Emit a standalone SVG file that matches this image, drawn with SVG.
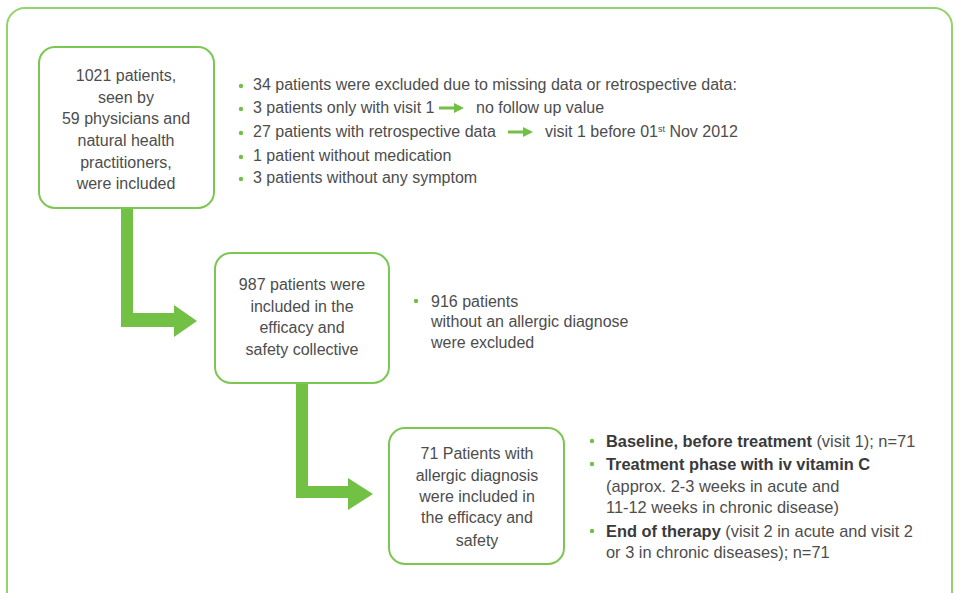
<svg xmlns="http://www.w3.org/2000/svg" width="956" height="593" viewBox="0 0 956 593">
<style>
.t{font-family:"Liberation Sans",Arial,sans-serif;font-size:16px;fill:#4d4d4d}
.l3{font-size:16.4px}
.c{text-anchor:middle}
.b{font-weight:bold;fill:#3a3a3a}
.box{fill:#fff;stroke:#7cc652;stroke-width:2}
.dot{fill:#72c044}
.arr{fill:#72c044}
</style>
<defs>
<marker id="ah" markerWidth="10" markerHeight="10" refX="7" refY="5" orient="auto" markerUnits="userSpaceOnUse">
<path d="M0,0 L10,5 L0,10 Z" fill="#72c044"/>
</marker>
</defs>
<rect width="956" height="593" fill="#fff"/>
<rect x="7" y="8" width="945" height="620" rx="18" fill="none" stroke="#93d36c" stroke-width="2"/>

<g id="connectors">
<path class="arr" d="M121,208 H133 V313 H174 V305 L197,321 L174,337 V327 H121 Z"/>
<path class="arr" d="M296,383 H308 V486 H348 V478 L373,494 L348,510 V498 H296 Z"/>
<path d="M439,108 H461" stroke="#72c044" stroke-width="3" marker-end="url(#ah)"/>
<path d="M508,132 H530" stroke="#72c044" stroke-width="3" marker-end="url(#ah)"/>
</g>

<g id="n1">
<rect class="box" x="39" y="47" width="175" height="161" rx="16"/>
<text class="t c" x="126" y="81">1021 patients,</text>
<text class="t c" x="126" y="103">seen by</text>
<text class="t c" x="126" y="124">59 physicians and</text>
<text class="t c" x="126" y="146">natural health</text>
<text class="t c" x="126" y="168">practitioners,</text>
<text class="t c" x="126" y="189">were included</text>
</g>

<g id="n2">
<rect class="box" x="215" y="253" width="174" height="130" rx="16"/>
<text class="t c" x="302" y="290">987 patients were</text>
<text class="t c" x="302" y="312">included in the</text>
<text class="t c" x="302" y="333">efficacy and</text>
<text class="t c" x="302" y="355">safety collective</text>
</g>

<g id="n3">
<rect class="box" x="389" y="428" width="175" height="136" rx="16"/>
<text class="t c" x="477" y="459">71 Patients with</text>
<text class="t c" x="477" y="481">allergic diagnosis</text>
<text class="t c" x="477" y="502">were included in</text>
<text class="t c" x="477" y="523">the efficacy and</text>
<text class="t c" x="477" y="546">safety</text>
</g>

<g id="list1">
<circle class="dot" cx="241" cy="86" r="2.2"/>
<circle class="dot" cx="241" cy="109" r="2.2"/>
<circle class="dot" cx="241" cy="133" r="2.2"/>
<circle class="dot" cx="241" cy="157" r="2.2"/>
<circle class="dot" cx="241" cy="179" r="2.2"/>
<text class="t" x="253" y="90">34 patients were excluded due to missing data or retrospective data:</text>
<text class="t" x="253" y="113">3 patients only with visit 1</text>
<text class="t" x="476" y="113">no follow up value</text>
<text class="t" x="253" y="137">27 patients with retrospective data</text>
<text class="t" x="545" y="137">visit 1 before 01<tspan font-size="9" dy="-5">st</tspan><tspan dy="5"> Nov 2012</tspan></text>
<text class="t" x="253" y="161">1 patient without medication</text>
<text class="t" x="253" y="183">3 patients without any symptom</text>
</g>

<g id="list2">
<circle class="dot" cx="416" cy="301" r="2.2"/>
<text class="t" x="431" y="307">916 patients</text>
<text class="t" x="431" y="327">without an allergic diagnose</text>
<text class="t" x="431" y="348">were excluded</text>
</g>

<g id="list3">
<circle class="dot" cx="592" cy="441" r="2.2"/>
<circle class="dot" cx="592" cy="464" r="2.2"/>
<circle class="dot" cx="592" cy="531" r="2.2"/>
<text class="t l3" x="606" y="447"><tspan class="b">Baseline, before treatment</tspan> (visit 1); n=71</text>
<text class="t l3 b" x="606" y="470">Treatment phase with iv vitamin C</text>
<text class="t l3" x="606" y="492">(approx. 2-3 weeks in acute and</text>
<text class="t l3" x="606" y="513">11-12 weeks in chronic disease)</text>
<text class="t l3" x="606" y="537"><tspan class="b">End of therapy</tspan> (visit 2 in acute and visit 2</text>
<text class="t l3" x="606" y="558">or 3 in chronic diseases); n=71</text>
</g>
</svg>
